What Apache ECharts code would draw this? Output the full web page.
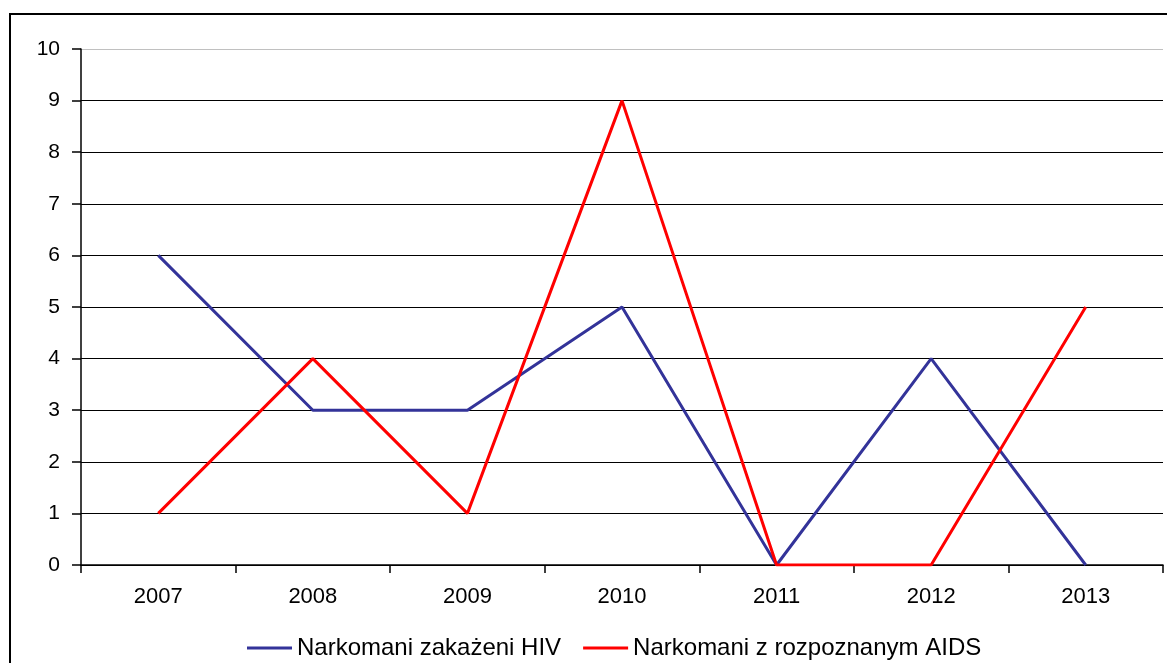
<!DOCTYPE html>
<html><head><meta charset="utf-8">
<script src="https://cdn.jsdelivr.net/npm/echarts@6/dist/echarts.min.js"></script>
<style>html,body{margin:0;padding:0;background:#fff}#c{width:1167px;height:663px}</style>
</head><body><div id="c"></div>
<script>
const categories = ['2007','2008','2009','2010','2011','2012','2013'];
const hivValues = [6,3,3,5,0,4,0];
const aidsValues = [1,4,1,9,0,0,5];
const seriesNames = ['Narkomani zakażeni HIV','Narkomani z rozpoznanym AIDS'];

const chart = echarts.init(document.getElementById('c'));
const gridColors = ['#000','#000','#000','#000','#000','#000','#000','#000','#000','#000','#c0c0c0'];
chart.setOption({
  animation:false,
  textStyle:{fontFamily:'Liberation Sans, Arial, sans-serif'},
  graphic:[{type:'rect',shape:{x:10,y:14,width:1200,height:700},style:{fill:'none',stroke:'#000',lineWidth:2},z:-1}],
  grid:{left:81,right:4,top:49,bottom:98},
  legend:{top:636,left:247,padding:0,icon:'rect',itemWidth:45,itemHeight:3,itemGap:22,
    textStyle:{fontSize:24,color:'#000',fontFamily:'Liberation Sans, Arial, sans-serif'},
    data:seriesNames},
  xAxis:{type:'category',data:categories,boundaryGap:true,
    axisLine:{lineStyle:{color:'#000',width:1.5}},
    axisTick:{show:true,length:8,lineStyle:{color:'#000',width:1.5}},
    axisLabel:{color:'#000',fontSize:22,margin:21}},
  yAxis:{type:'value',min:0,max:10,interval:1,
    axisLine:{show:true,lineStyle:{color:'#000',width:1.5}},
    axisTick:{show:true,length:9,lineStyle:{color:'#000',width:1.5}},
    axisLabel:{color:'#000',fontSize:21,margin:21},
    splitLine:{show:true,lineStyle:{color:gridColors,width:1.2}}},
  series:[
    {name:seriesNames[0],type:'line',data:hivValues,symbol:'none',lineStyle:{color:'#333399',width:3},itemStyle:{color:'#333399'}},
    {name:seriesNames[1],type:'line',data:aidsValues,symbol:'none',lineStyle:{color:'#ff0000',width:3},itemStyle:{color:'#ff0000'}}
  ]
});
</script></body></html>
